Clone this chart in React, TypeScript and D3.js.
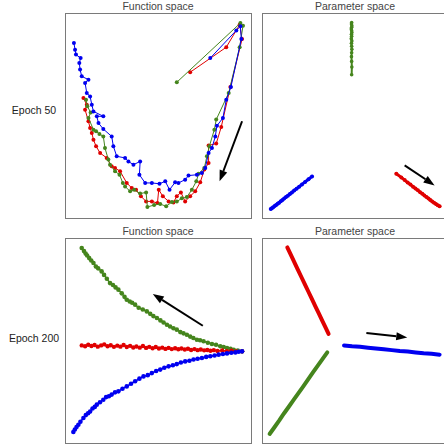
import React from 'react';
import * as d3 from 'd3';

// values, arbitrary units (0..100 on both axes, y up)
const ROW_LABELS = ['Epoch 50', 'Epoch 200'];
const COL_TITLES = ['Function space', 'Parameter space'];

const COLORS = { red: '#e00000', green: '#45851d', blue: '#0000f0' };

// Epoch 50 - function space
const fs50Green = [[60.1,66.2],[94.3,95.1],[95.7,93.8],[93.9,83.3],[88.0,61.0],[81.3,48.0],[80.3,43.1],[77.6,35.0],[76.3,30.1],[74.9,24.4],[71.8,21.6],[70.6,17.9],[68.2,13.8],[65.5,10.2],[62.8,9.6],[60.1,8.0],[57.5,7.8],[54.4,5.7],[51.2,6.8],[47.9,6.3],[44.3,5.4],[43.6,12.5],[40.4,11.9],[37.2,13.8],[35.0,13.0],[32.3,15.4],[31.1,17.1],[29.3,21.1],[26.9,22.8],[24.2,26.0],[23.3,28.5],[21.5,34.1],[20.6,39.8],[18.5,41.0],[16.7,42.3],[15.3,43.1],[12.6,48.8],[13.8,51.5],[12.0,54.5],[11.3,57.7]];
const fs50Red = [[67.3,71.1],[86.7,83.3],[93.9,94.3],[95.2,87.3],[88.9,63.9],[84.0,44.4],[81.3,36.3],[77.2,35.4],[77.2,26.8],[74.9,23.6],[72.7,17.4],[70.0,13.0],[67.3,10.6],[64.6,8.1],[62.3,12.5],[60.1,10.6],[58.3,7.6],[55.7,8.1],[52.6,10.6],[50.4,13.8],[49.7,7.3],[46.7,8.1],[43.6,8.1],[40.8,10.6],[38.2,13.8],[35.9,14.6],[33.2,17.1],[29.6,22.8],[26.9,24.4],[25.1,25.2],[22.4,29.3],[18.9,31.7],[16.7,35.0],[15.3,38.2],[14.4,41.5],[13.5,43.9],[12.6,47.2],[10.8,52.8],[11.7,55.3],[9.9,58.5]];
const fs50Blue = [[78.1,78.0],[92.1,91.5],[94.3,93.5],[94.8,87.3],[89.2,63.9],[86.7,57.7],[84.9,48.8],[81.7,45.0],[80.8,39.8],[79.0,34.1],[77.2,31.7],[75.4,24.4],[73.6,22.0],[70.9,21.1],[66.4,20.7],[64.6,18.7],[61.0,17.1],[59.2,17.4],[56.2,13.8],[53.9,17.9],[50.8,16.7],[46.7,17.1],[43.1,17.1],[40.0,21.1],[40.4,27.6],[36.8,26.0],[34.1,27.6],[32.3,29.3],[27.8,30.1],[26.0,35.0],[25.1,39.8],[20.6,43.4],[18.0,46.3],[17.1,49.6],[20.6,49.6],[15.3,52.0],[14.4,55.3],[13.5,59.3],[11.7,61.0],[10.8,65.9],[12.6,67.5],[9.0,69.1],[8.1,72.4],[7.7,75.6],[8.4,78.0],[5.9,79.7],[5.4,82.1],[4.8,85.4]];
const fs50Arrow = [[95.2,47.2],[83.1,17.9]];

// Epoch 50 - parameter space
const ps50Green = [[48.2,95.4],[48.1,94.6],[48.3,93.8],[48.2,93.0],[48.0,92.2],[48.2,91.4],[48.3,90.5],[48.1,89.6],[48.2,88.6],[48.0,87.5],[48.3,86.4],[48.1,85.2],[48.2,83.8],[48.3,82.3],[48.2,80.6],[48.1,78.7],[48.2,76.4],[48.3,73.6],[48.2,69.9]];
const ps50Red = [[72.2,21.6],[74.9,19.8],[76.7,18.5],[78.3,17.3],[79.8,16.3],[81.2,15.3],[82.5,14.4],[83.8,13.5],[85.0,12.6],[86.2,11.8],[87.3,11.0],[88.4,10.3],[89.5,9.5],[90.5,8.8],[91.5,8.1],[92.5,7.4],[93.5,6.8],[94.5,6.2],[95.5,5.7]];
const ps50Blue = [[26.9,20.3],[25.0,18.9],[23.2,17.6],[21.5,16.4],[20.0,15.3],[18.6,14.3],[17.3,13.4],[16.1,12.5],[15.0,11.7],[13.9,10.9],[12.9,10.2],[11.9,9.5],[11.0,8.8],[10.1,8.2],[9.2,7.5],[8.4,6.9],[7.6,6.3],[6.8,5.8],[6.0,5.2],[5.3,4.8],[4.7,4.4]];
const ps50Arrow = [[76.7,25.7],[92.8,15.9]];

// Epoch 200 - function space
const fs200Green = [[9.0,95.1],[10.2,93.6],[11.1,92.4],[11.9,91.5],[13.0,90.2],[14.1,89.0],[15.3,87.8],[16.6,86.1],[17.8,85.2],[19.7,83.7],[21.0,82.0],[22.5,80.1],[24.2,78.0],[25.8,77.1],[27.2,75.9],[28.7,74.8],[30.5,73.0],[32.0,71.3],[33.2,69.9],[34.8,69.0],[36.1,68.4],[37.7,67.5],[39.6,66.0],[41.8,65.1],[44.0,64.2],[45.8,63.0],[47.5,61.9],[49.4,61.0],[51.3,59.8],[53.0,58.8],[54.8,57.7],[56.5,56.8],[58.3,56.0],[60.1,55.3],[62.0,54.1],[63.7,53.5],[65.5,52.8],[67.3,51.9],[69.0,51.2],[70.9,50.4],[72.6,50.1],[74.5,49.6],[76.8,48.9],[79.0,48.3],[81.2,47.9],[83.5,47.2],[85.3,46.8],[87.1,46.3],[89.0,45.9],[90.7,45.5],[92.9,45.1],[95.2,44.7]];
const fs200Red = [[9.0,47.6],[10.8,47.2],[12.5,47.9],[14.2,47.3],[15.9,47.8],[17.6,47.0],[19.4,47.6],[21.1,48.1],[22.9,47.2],[24.6,47.7],[26.3,46.9],[28.1,47.5],[29.8,47.0],[31.5,47.8],[33.2,46.8],[35.0,47.4],[36.7,46.6],[38.4,47.1],[40.2,46.5],[41.9,47.3],[43.6,46.4],[45.3,46.9],[47.1,46.2],[48.8,46.8],[50.5,46.1],[52.3,46.5],[54.0,45.9],[55.7,46.4],[57.4,45.8],[59.2,46.2],[60.9,45.7],[62.6,46.1],[64.4,45.6],[66.1,46.0],[67.8,45.4],[69.6,45.8],[71.3,45.3],[73.0,45.6],[74.8,45.2],[76.5,45.4],[78.2,45.0],[80.0,45.3],[82.0,44.9],[84.5,45.1],[87.0,44.8],[89.5,45.0],[92.0,44.7],[95.2,44.7]];
const fs200Blue = [[4.5,5.4],[5.3,6.6],[6.2,7.8],[7.2,8.9],[8.3,10.4],[9.9,12.2],[11.2,13.6],[12.4,14.5],[13.5,15.4],[14.8,16.8],[16.0,17.6],[17.1,18.7],[18.8,19.9],[20.6,21.1],[22.1,22.4],[23.6,22.8],[25.1,23.6],[26.9,24.7],[28.7,25.2],[30.9,26.5],[33.2,27.6],[35.5,28.9],[37.7,30.1],[40.0,31.4],[42.2,32.5],[44.5,33.1],[46.7,34.1],[49.0,35.1],[51.2,35.8],[53.4,36.7],[55.7,37.4],[58.0,37.9],[60.1,38.5],[62.3,39.3],[64.6,39.8],[66.9,40.1],[69.1,40.7],[71.3,41.1],[73.6,41.5],[75.9,42.0],[78.1,42.3],[80.4,42.7],[82.6,43.1],[84.9,43.4],[87.1,43.7],[89.4,44.0],[91.6,44.2],[93.4,44.5],[95.2,44.7]];
const fs200Arrow = [[74.1,57.2],[47.2,72.7]];

// Epoch 200 - parameter space
const ps200Red = [[13.6,95.4],[15.4,92.0],[17.3,88.4],[19.2,84.7],[21.1,81.1],[23.0,77.5],[24.9,73.9],[26.8,70.3],[28.7,66.7],[30.6,63.1],[32.5,59.5],[34.2,56.3],[35.8,53.2]];
const ps200Green = [[4.1,4.4],[6.7,7.7],[9.3,11.0],[11.8,14.4],[14.4,17.7],[17.0,21.0],[19.6,24.3],[22.2,27.6],[24.8,31.0],[27.3,34.3],[29.9,37.6],[32.5,40.9],[35.1,44.2]];
const ps200Blue = [[44.1,47.6],[48.4,47.2],[52.7,46.9],[57.0,46.5],[61.2,46.1],[65.5,45.7],[69.8,45.3],[74.1,44.9],[78.4,44.6],[82.6,44.2],[86.9,43.8],[91.2,43.5],[95.5,43.1]];
const ps200Arrow = [[56.1,53.7],[78.1,51.5]];

type Pt = number[];
type Series = { pts: Pt[]; color: string; lw: number; r: number };

const panels = [
  { row: 0, col: 0, arrow: fs50Arrow, series: [
    { pts: fs50Red, color: COLORS.red, lw: 1, r: 2 },
    { pts: fs50Green, color: COLORS.green, lw: 1, r: 2 },
    { pts: fs50Blue, color: COLORS.blue, lw: 1, r: 2 },
  ] },
  { row: 0, col: 1, arrow: ps50Arrow, series: [
    { pts: ps50Green, color: COLORS.green, lw: 2, r: 1.8 },
    { pts: ps50Red, color: COLORS.red, lw: 3, r: 2 },
    { pts: ps50Blue, color: COLORS.blue, lw: 3, r: 2 },
  ] },
  { row: 1, col: 0, arrow: fs200Arrow, series: [
    { pts: fs200Green, color: COLORS.green, lw: 1.5, r: 2.3 },
    { pts: fs200Red, color: COLORS.red, lw: 1.5, r: 2.2 },
    { pts: fs200Blue, color: COLORS.blue, lw: 1.5, r: 2.3 },
  ] },
  { row: 1, col: 1, arrow: ps200Arrow, series: [
    { pts: ps200Red, color: COLORS.red, lw: 4, r: 0 },
    { pts: ps200Green, color: COLORS.green, lw: 4, r: 0 },
    { pts: ps200Blue, color: COLORS.blue, lw: 4, r: 0 },
  ] },
];

const colX = [65, 262];
const rowY = [13, 238];
const panelW = 186;
const panelH = 205;

const Arrow = ({ a, b }: { a: Pt; b: Pt }) => {
  const ang = Math.atan2(b[1] - a[1], b[0] - a[0]);
  const headLen = 11;
  const headW = 4;
  const bx = b[0] - headLen * Math.cos(ang);
  const by = b[1] - headLen * Math.sin(ang);
  const px = -Math.sin(ang) * headW;
  const py = Math.cos(ang) * headW;
  return <g>
    <line x1={a[0]} y1={a[1]} x2={bx} y2={by} stroke="#000" strokeWidth={2} />
    <path d={`M${b[0]},${b[1]}L${bx + px},${by + py}L${bx - px},${by - py}Z`} fill="#000" />
  </g>;
};

const Panel = ({ p }: { p: typeof panels[number] }) => {
  const x0 = colX[p.col];
  const y0 = rowY[p.row];
  const x = d3.scaleLinear().domain([0, 100]).range([x0, x0 + panelW]);
  const y = d3.scaleLinear().domain([0, 100]).range([y0 + panelH, y0]);
  const line = d3.line<Pt>().x(d => x(d[0])).y(d => y(d[1]));
  const arrowA = [x(p.arrow[0][0]), y(p.arrow[0][1])];
  const arrowB = [x(p.arrow[1][0]), y(p.arrow[1][1])];
  return <g>
    <rect x={x0 + 0.5} y={y0 + 0.5} width={panelW} height={panelH} fill="#fff" stroke="#7a7a7a" strokeWidth={1} />
    <text x={x0 + panelW / 2} y={y0 - 3} textAnchor="middle" fontSize={10.5} fill="#444">{COL_TITLES[p.col]}</text>
    {p.series.map((s: Series, i: number) => <g key={i}>
      <path d={line(s.pts) || ''} fill="none" stroke={s.color} strokeWidth={s.lw} strokeLinecap="round" strokeLinejoin="round" />
      {s.r > 0 && s.pts.map((d, j) => <circle key={j} cx={x(d[0])} cy={y(d[1])} r={s.r} fill={s.color} />)}
    </g>)}
    <Arrow a={arrowA} b={arrowB} />
  </g>;
};

export default function App() {
  return <div style={{ position: 'fixed', left: 0, top: 0, width: 444, height: 444, overflow: 'hidden', background: '#fff' }}>
    <svg width={444} height={444} style={{ display: 'block', fontFamily: '"Liberation Sans", Arial, sans-serif' }}>
      <rect width={444} height={444} fill="#fff" />
      {ROW_LABELS.map((t, i) => <text key={t} x={34} y={rowY[i] + panelH / 2 - 2 + (i === 1 ? 3 : 0)} textAnchor="middle" fontSize={10.5} fill="#222">{t}</text>)}
      {panels.map((p, i) => <Panel key={i} p={p} />)}
    </svg>
  </div>;
}
